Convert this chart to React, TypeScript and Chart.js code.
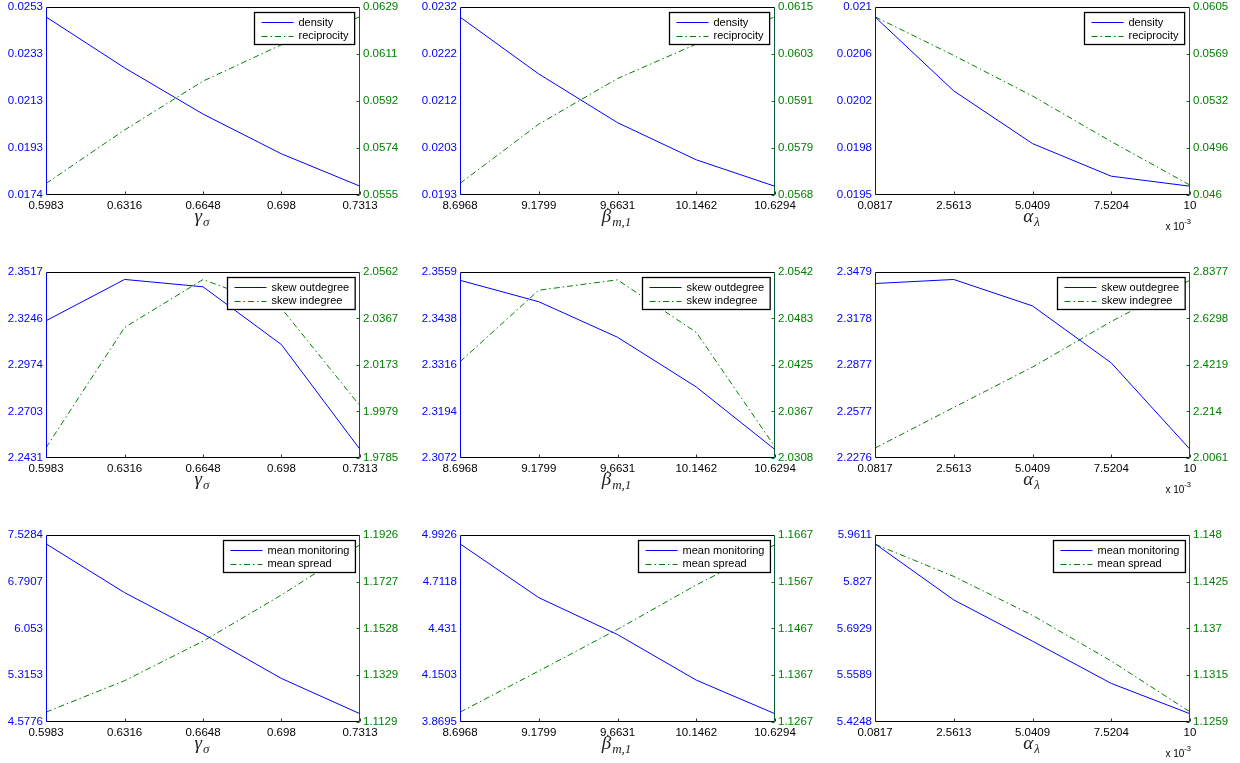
import React, { useEffect, useRef } from "react";
import { Chart, registerables } from "chart.js";

Chart.register(...registerables);

const BLUE = "#0000ff";
const GREEN = "#008000";
const FONT = '"Liberation Sans", Arial, sans-serif';

// x values (alpha in units of 10^-3)
const gammaSigmaX = [0.5983, 0.6316, 0.6648, 0.698, 0.7313];
const betaM1X = [8.6968, 9.1799, 9.6631, 10.1462, 10.6294];
const alphaLambdaX = [0.0817, 2.5613, 5.0409, 7.5204, 10];

const gammaTickLabels = ["0.5983", "0.6316", "0.6648", "0.698", "0.7313"];
const betaTickLabels = ["8.6968", "9.1799", "9.6631", "10.1462", "10.6294"];
const alphaTickLabels = ["0.0817", "2.5613", "5.0409", "7.5204", "10"];

// Row 1: density / reciprocity
const densityGamma = [0.02488, 0.02274, 0.0208, 0.01913, 0.01777];
const reciprocityGamma = [0.05595, 0.05806, 0.05998, 0.06141, 0.06251];
const densityBeta = [0.02299, 0.02181, 0.0208, 0.02003, 0.01948];
const reciprocityBeta = [0.05709, 0.05857, 0.05971, 0.06057, 0.06125];
const densityAlpha = [0.02092, 0.02033, 0.01991, 0.01965, 0.01957];
const reciprocityAlpha = [0.05974, 0.05676, 0.05363, 0.05012, 0.04676];

// Row 2: skew outdegree / skew indegree
const skewOutGamma = [2.3232, 2.3473, 2.343, 2.3093, 2.2481];
const skewInGamma = [1.9828, 2.033, 2.053, 2.041, 2.0003];
const skewOutBeta = [2.3537, 2.3481, 2.3388, 2.3258, 2.3094];
const skewInBeta = [2.0429, 2.0519, 2.0532, 2.0466, 2.0322];
const skewOutAlpha = [2.3404, 2.343, 2.3259, 2.2891, 2.2332];
const skewInAlpha = [2.0504, 2.2321, 2.4123, 2.6161, 2.8008];

// Row 3: mean monitoring / mean spread
const monitorGamma = [7.3879, 6.6177, 5.9671, 5.2645, 4.7077];
const spreadGamma = [1.1171, 1.1305, 1.1473, 1.167, 1.1884];
const monitorBeta = [4.9391, 4.6162, 4.3944, 4.121, 3.919];
const spreadBeta = [1.1288, 1.1376, 1.1465, 1.156, 1.1646];
const monitorAlpha = [5.9356, 5.7748, 5.6565, 5.5354, 5.4484];
const spreadAlpha = [1.1469, 1.1431, 1.1385, 1.1331, 1.1271];

// y tick labels (top -> bottom)
const densityTicksGamma = ["0.0253", "0.0233", "0.0213", "0.0193", "0.0174"];
const reciprocityTicksGamma = ["0.0629", "0.0611", "0.0592", "0.0574", "0.0555"];
const densityTicksBeta = ["0.0232", "0.0222", "0.0212", "0.0203", "0.0193"];
const reciprocityTicksBeta = ["0.0615", "0.0603", "0.0591", "0.0579", "0.0568"];
const densityTicksAlpha = ["0.021", "0.0206", "0.0202", "0.0198", "0.0195"];
const reciprocityTicksAlpha = ["0.0605", "0.0569", "0.0532", "0.0496", "0.046"];
const skewOutTicksGamma = ["2.3517", "2.3246", "2.2974", "2.2703", "2.2431"];
const skewInTicksGamma = ["2.0562", "2.0367", "2.0173", "1.9979", "1.9785"];
const skewOutTicksBeta = ["2.3559", "2.3438", "2.3316", "2.3194", "2.3072"];
const skewInTicksBeta = ["2.0542", "2.0483", "2.0425", "2.0367", "2.0308"];
const skewOutTicksAlpha = ["2.3479", "2.3178", "2.2877", "2.2577", "2.2276"];
const skewInTicksAlpha = ["2.8377", "2.6298", "2.4219", "2.214", "2.0061"];
const monitorTicksGamma = ["7.5284", "6.7907", "6.053", "5.3153", "4.5776"];
const spreadTicksGamma = ["1.1926", "1.1727", "1.1528", "1.1329", "1.1129"];
const monitorTicksBeta = ["4.9926", "4.7118", "4.431", "4.1503", "3.8695"];
const spreadTicksBeta = ["1.1667", "1.1567", "1.1467", "1.1367", "1.1267"];
const monitorTicksAlpha = ["5.9611", "5.827", "5.6929", "5.5589", "5.4248"];
const spreadTicksAlpha = ["1.148", "1.1425", "1.137", "1.1315", "1.1259"];

const rowNames = [
  ["density", "reciprocity"],
  ["skew outdegree", "skew indegree"],
  ["mean monitoring", "mean spread"],
];

const colLR = [
  [46, 360],
  [460, 775],
  [875, 1190],
];
const rowTB = [
  [5, 195],
  [270, 458],
  [533, 722],
];

type Panel = {
  row: number;
  col: number;
  x: number[];
  xLabels: string[];
  titleMain: string;
  titleSub: string;
  exp: boolean;
  leftData: number[];
  rightData: number[];
  leftTicks: string[];
  rightTicks: string[];
};

const colX = [
  { x: gammaSigmaX, labels: gammaTickLabels, main: "γ", sub: "σ", exp: false },
  { x: betaM1X, labels: betaTickLabels, main: "β", sub: "m,1", exp: false },
  { x: alphaLambdaX, labels: alphaTickLabels, main: "α", sub: "λ", exp: true },
];

const panelSeries = [
  [
    [densityGamma, reciprocityGamma, densityTicksGamma, reciprocityTicksGamma],
    [densityBeta, reciprocityBeta, densityTicksBeta, reciprocityTicksBeta],
    [densityAlpha, reciprocityAlpha, densityTicksAlpha, reciprocityTicksAlpha],
  ],
  [
    [skewOutGamma, skewInGamma, skewOutTicksGamma, skewInTicksGamma],
    [skewOutBeta, skewInBeta, skewOutTicksBeta, skewInTicksBeta],
    [skewOutAlpha, skewInAlpha, skewOutTicksAlpha, skewInTicksAlpha],
  ],
  [
    [monitorGamma, spreadGamma, monitorTicksGamma, spreadTicksGamma],
    [monitorBeta, spreadBeta, monitorTicksBeta, spreadTicksBeta],
    [monitorAlpha, spreadAlpha, monitorTicksAlpha, spreadTicksAlpha],
  ],
];

const panels: Panel[] = [];
for (let r = 0; r < 3; r++) {
  for (let c = 0; c < 3; c++) {
    const s = panelSeries[r][c] as any[];
    panels.push({
      row: r,
      col: c,
      x: colX[c].x,
      xLabels: colX[c].labels,
      titleMain: colX[c].main,
      titleSub: colX[c].sub,
      exp: colX[c].exp,
      leftData: s[0],
      rightData: s[1],
      leftTicks: s[2],
      rightTicks: s[3],
    });
  }
}

const PAD_L = 46;
const PAD_R = 50;
const PAD_T = 8;
const PAD_B = 50;
const DASH_DOT = [6, 3, 1.5, 3];

function evenTicks(min: number, max: number) {
  const out: { value: number }[] = [];
  for (let i = 0; i < 5; i++) out.push({ value: min + ((max - min) * i) / 4 });
  return out;
}

function framePlugin(p: Panel) {
  return {
    id: "matlabFrame",
    afterDraw(chart: any) {
      const ctx = chart.ctx as CanvasRenderingContext2D;
      const a = chart.chartArea;
      const L = Math.round(a.left) + 0.5;
      const R = Math.round(a.right) - 0.5;
      const T = Math.round(a.top) + 0.5;
      const B = Math.round(a.bottom) - 0.5;
      ctx.save();
      ctx.lineWidth = 1;
      ctx.setLineDash([]);
      // bottom inward ticks
      const xs = chart.scales.x;
      ctx.strokeStyle = "#333";
      p.x.forEach((v) => {
        const px = Math.round(xs.getPixelForValue(v)) + 0.5;
        ctx.beginPath();
        ctx.moveTo(px, B);
        ctx.lineTo(px, B - 3);
        ctx.stroke();
      });
      // right inward ticks
      const yr = chart.scales.yR;
      ctx.strokeStyle = GREEN;
      yr.ticks.forEach((t: any) => {
        const py = Math.round(yr.getPixelForValue(t.value)) + 0.5;
        ctx.beginPath();
        ctx.moveTo(R, py);
        ctx.lineTo(R - 3, py);
        ctx.stroke();
      });
      // frame
      ctx.strokeStyle = "#000";
      ctx.beginPath();
      ctx.moveTo(L, T);
      ctx.lineTo(R, T);
      ctx.moveTo(L, B);
      ctx.lineTo(R, B);
      ctx.stroke();
      ctx.strokeStyle = BLUE;
      ctx.beginPath();
      ctx.moveTo(L, T);
      ctx.lineTo(L, B);
      ctx.stroke();
      ctx.strokeStyle = "#0a5a3a";
      ctx.beginPath();
      ctx.moveTo(R, T);
      ctx.lineTo(R, B);
      ctx.stroke();

      // legend
      const names = rowNames[p.row];
      ctx.font = `11px ${FONT}`;
      const tw = Math.max(...names.map((n) => ctx.measureText(n).width));
      const boxW = 44 + tw + 6;
      const boxH = 32;
      const bx = Math.round(a.right - 5.5 - boxW) + 0.5;
      const by = Math.round(a.top + 5) + 0.5;
      ctx.fillStyle = "#fff";
      ctx.fillRect(bx, by, boxW, boxH);
      ctx.lineWidth = 1.3;
      ctx.strokeStyle = "#000";
      ctx.strokeRect(bx, by, boxW, boxH);
      const rowsY = [by + 9.5, by + 23];
      ctx.lineWidth = 1;
      [BLUE, GREEN].forEach((col, i) => {
        ctx.strokeStyle = col;
        ctx.setLineDash(i === 0 ? [] : DASH_DOT);
        ctx.beginPath();
        ctx.moveTo(bx + 7, Math.round(rowsY[i]) + 0.5);
        ctx.lineTo(bx + 39, Math.round(rowsY[i]) + 0.5);
        ctx.stroke();
        ctx.setLineDash([]);
        ctx.fillStyle = "#000";
        ctx.textBaseline = "middle";
        ctx.textAlign = "left";
        ctx.fillText(names[i], bx + 44, rowsY[i] + 0.5);
      });

      // x-axis title (math symbol with subscript)
      ctx.fillStyle = "#222";
      ctx.textBaseline = "alphabetic";
      ctx.textAlign = "left";
      const mainFont = `italic 19px "Liberation Serif", "DejaVu Serif", serif`;
      const subFont = `italic 13px "Liberation Serif", "DejaVu Serif", serif`;
      ctx.font = mainFont;
      const mw = ctx.measureText(p.titleMain).width;
      ctx.font = subFont;
      const sw = ctx.measureText(p.titleSub).width;
      const cx = (a.left + a.right) / 2 - 1;
      const sx = cx - (mw + sw + 1) / 2;
      ctx.font = mainFont;
      ctx.fillText(p.titleMain, sx, a.bottom + 27);
      ctx.font = subFont;
      ctx.fillText(p.titleSub, sx + mw + 1, a.bottom + 31);

      // exponent label
      if (p.exp) {
        ctx.fillStyle = "#000";
        ctx.font = `7.5px ${FONT}`;
        const ew = ctx.measureText("-3").width;
        ctx.textAlign = "left";
        ctx.fillText("-3", a.right + 1 - ew, a.bottom + 29);
        ctx.font = `10px ${FONT}`;
        ctx.textAlign = "right";
        ctx.fillText("x 10", a.right + 1 - ew, a.bottom + 35);
      }
      ctx.restore();
    },
  };
}

function makeConfig(p: Panel): any {
  const lmin = parseFloat(p.leftTicks[4]);
  const lmax = parseFloat(p.leftTicks[0]);
  const rmin = parseFloat(p.rightTicks[4]);
  const rmax = parseFloat(p.rightTicks[0]);
  const tickFont = { family: FONT, size: 11.5 };
  const noGrid = { display: false, drawTicks: false, tickLength: 0 };
  return {
    type: "line",
    data: {
      datasets: [
        {
          label: rowNames[p.row][0],
          data: p.x.map((x, i) => ({ x, y: p.leftData[i] })),
          yAxisID: "yL",
          borderColor: BLUE,
          borderWidth: 1,
          pointRadius: 0,
          fill: false,
          tension: 0,
        },
        {
          label: rowNames[p.row][1],
          data: p.x.map((x, i) => ({ x, y: p.rightData[i] })),
          yAxisID: "yR",
          borderColor: GREEN,
          borderWidth: 1,
          borderDash: DASH_DOT,
          pointRadius: 0,
          fill: false,
          tension: 0,
        },
      ],
    },
    options: {
      responsive: false,
      maintainAspectRatio: false,
      animation: false,
      events: [],
      layout: { padding: { top: PAD_T, left: 0, right: 0, bottom: 0 } },
      plugins: {
        legend: { display: false },
        tooltip: { enabled: false },
        title: { display: false },
      },
      scales: {
        x: {
          type: "linear",
          position: "bottom",
          min: p.x[0],
          max: p.x[4],
          afterBuildTicks: (s: any) => {
            s.ticks = p.x.map((v) => ({ value: v }));
          },
          afterFit: (s: any) => {
            s.height = PAD_B;
          },
          grid: noGrid,
          border: { display: false },
          ticks: {
            autoSkip: false,
            maxRotation: 0,
            minRotation: 0,
            padding: 4,
            color: "#000",
            font: tickFont,
            callback: (_v: any, i: number) => p.xLabels[i],
          },
        },
        yL: {
          type: "linear",
          position: "left",
          min: lmin,
          max: lmax,
          afterBuildTicks: (s: any) => {
            s.ticks = evenTicks(lmin, lmax);
          },
          afterFit: (s: any) => {
            s.width = PAD_L;
          },
          grid: noGrid,
          border: { display: false },
          ticks: {
            autoSkip: false,
            padding: 3,
            color: BLUE,
            font: tickFont,
            callback: (_v: any, i: number) => p.leftTicks[4 - i],
          },
        },
        yR: {
          type: "linear",
          position: "right",
          min: rmin,
          max: rmax,
          afterBuildTicks: (s: any) => {
            s.ticks = evenTicks(rmin, rmax);
          },
          afterFit: (s: any) => {
            s.width = PAD_R;
          },
          grid: noGrid,
          border: { display: false },
          ticks: {
            autoSkip: false,
            padding: 3,
            color: GREEN,
            font: tickFont,
            callback: (_v: any, i: number) => p.rightTicks[4 - i],
          },
        },
      },
    },
    plugins: [framePlugin(p)],
  };
}

function PanelChart({ p }: { p: Panel }) {
  const ref = useRef<HTMLCanvasElement | null>(null);
  const [L, R] = colLR[p.col];
  const [T, B] = rowTB[p.row];
  const left = L - PAD_L;
  const top = T - PAD_T;
  const w = R - L + PAD_L + PAD_R;
  const h = B - T + PAD_T + PAD_B;
  useEffect(() => {
    if (!ref.current) return;
    const chart = new Chart(ref.current, makeConfig(p));
    return () => chart.destroy();
  }, []);
  return (
    <canvas
      ref={ref}
      width={w}
      height={h}
      style={{ position: "absolute", left, top, width: w, height: h }}
    />
  );
}

export default function App() {
  return (
    <div
      style={{
        position: "fixed",
        left: 0,
        top: 0,
        width: 1240,
        height: 763,
        background: "#fff",
        overflow: "hidden",
      }}
    >
      {panels.map((p, i) => (
        <PanelChart key={i} p={p} />
      ))}
    </div>
  );
}
